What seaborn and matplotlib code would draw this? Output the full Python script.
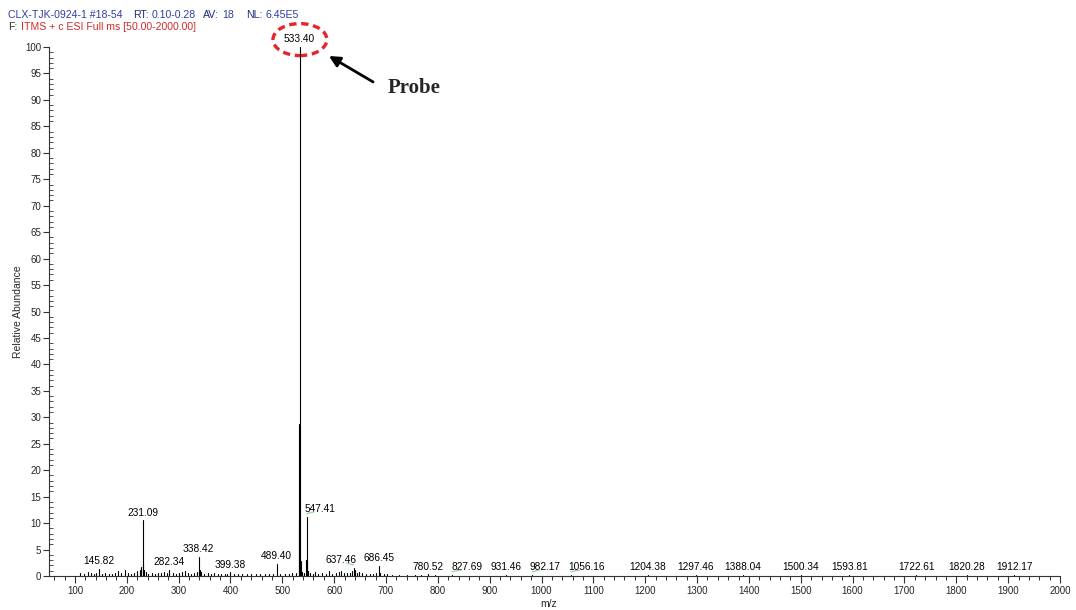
import numpy as np
import pandas as pd
import matplotlib
matplotlib.use("Agg")
import matplotlib.pyplot as plt
from matplotlib.patches import Ellipse
from matplotlib.ticker import MultipleLocator
import seaborn as sns

# Labelled peaks (m/z, relative abundance %)
labeled_mz = [145.82, 231.09, 282.34, 338.42, 399.38, 489.40, 533.40, 547.41,
              637.46, 686.45, 780.52, 827.69, 931.46, 982.17, 1056.16, 1204.38,
              1297.46, 1388.04, 1500.34, 1593.81, 1722.61, 1820.28, 1912.17]
labeled_int = [1.3, 10.5, 1.1, 3.6, 0.7, 2.3, 100.0, 11.2,
               1.5, 1.9, 0.3, 0.2, 0.2, 0.2, 0.2, 0.15,
               0.15, 0.15, 0.15, 0.15, 0.15, 0.15, 0.15]

# Unlabelled peaks
other_mz = [110.2, 117.9, 124.6, 130.8, 136.1, 140.9, 151.7, 158.3, 165.0, 171.6,
            177.2, 183.4, 189.5, 195.9, 201.6, 208.3, 214.7, 219.8, 225.4, 228.2,
            232.1, 233.2, 236.4, 241.8, 248.5, 254.1, 260.3, 266.7, 272.2, 277.9,
            288.6, 294.3, 300.5, 306.9, 312.2, 318.4, 324.8, 330.1, 334.9, 340.4,
            343.6, 349.2, 355.8, 362.3, 369.1, 375.7, 382.4, 389.8, 394.2, 406.5,
            414.9, 423.1, 431.7, 440.2, 448.6, 457.4, 466.1, 474.8, 482.3, 496.1,
            504.7, 512.3, 519.6, 525.8, 531.40, 532.40, 535.40, 536.4, 538.2, 541.5,
            546.40, 548.40, 549.4, 553.6, 558.9, 563.2, 569.5, 576.8, 584.1, 590.3,
            596.7, 603.2, 609.8, 612.4, 618.5, 624.7, 630.2, 635.1, 639.5, 643.2,
            648.8, 654.3, 661.7, 668.2, 675.6, 680.9, 689.3, 695.2, 702.6, 712.4,
            725.1, 740.3, 755.8, 768.4, 795.0]
other_int = [0.5, 0.4, 0.7, 0.6, 0.4, 0.5, 0.4, 0.5, 0.3, 0.4,
             0.5, 1.0, 0.6, 1.1, 0.5, 0.4, 0.6, 0.9, 1.1, 1.7,
             2.0, 1.2, 0.8, 0.4, 0.5, 0.4, 0.6, 0.5, 0.7, 0.6,
             0.5, 0.4, 0.6, 0.7, 0.9, 0.6, 0.4, 0.5, 0.8, 1.2,
             0.7, 0.4, 0.5, 0.4, 0.5, 0.3, 0.4, 0.3, 0.4, 0.3,
             0.4, 0.3, 0.4, 0.3, 0.3, 0.4, 0.3, 0.4, 0.3, 0.4,
             0.3, 0.4, 0.5, 0.6, 10.4, 28.7, 2.8, 1.2, 0.7, 0.5,
             3.0, 2.6, 1.0, 0.5, 0.4, 0.7, 0.4, 0.5, 0.4, 0.9,
             0.4, 0.5, 0.8, 1.0, 0.5, 0.6, 0.5, 0.9, 1.1, 0.6,
             0.8, 0.5, 0.3, 0.4, 0.3, 0.5, 0.5, 0.3, 0.3, 0.2,
             0.2, 0.2, 0.2, 0.2, 0.15]

x_ticks = list(range(100, 2001, 100))
y_ticks = list(range(0, 101, 5))

# Horizontal shift (points) of labels moved aside to avoid overlaps
label_shift = {547.41: 9.5, 637.46: -9.0, 827.69: 11.0, 982.17: 9.5, 1056.16: 11.5}

sns.set_style("ticks")
plt.rcParams["font.family"] = ["Liberation Sans", "DejaVu Sans"]

fig = plt.figure(figsize=(10.76, 6.10), dpi=100)
W, H = 1076, 610
ax = fig.add_axes([49 / W, 1 - 576 / H, 1011 / W, 529 / H])

# Stick spectrum: each peak is a vertical segment from 0 to its abundance
all_mz = labeled_mz + other_mz
all_int = labeled_int + other_int
rows = []
for i, (m, h) in enumerate(zip(all_mz, all_int)):
    rows.append({"mz": m, "abundance": 0.0, "peak": i})
    rows.append({"mz": m, "abundance": h, "peak": i})
sticks = pd.DataFrame(rows)
sns.lineplot(data=sticks, x="mz", y="abundance", units="peak", estimator=None,
             color="black", lw=0.8, ax=ax, legend=False)

ax.set_xlim(50, 2000)
ax.set_ylim(0, 100)
ax.set_xticks(x_ticks)
ax.set_yticks(y_ticks)
ax.xaxis.set_minor_locator(MultipleLocator(20))
ax.yaxis.set_minor_locator(MultipleLocator(1))
ax.tick_params(axis="x", which="major", length=5, width=0.8, direction="out",
               labelsize=7, pad=2, color="#333333")
ax.tick_params(axis="x", which="minor", length=3, width=0.7, direction="out",
               color="#333333")
ax.tick_params(axis="y", which="major", length=4, width=0.8, direction="out",
               labelsize=7, pad=1.5, color="#333333")
ax.tick_params(axis="y", which="minor", length=3, width=0.6, direction="in",
               color="#333333")
for s in ("top", "right"):
    ax.spines[s].set_visible(False)
for s in ("left", "bottom"):
    ax.spines[s].set_linewidth(0.8)
    ax.spines[s].set_color("#333333")

ax.set_xlabel("m/z", fontsize=7.5)
ax.set_ylabel("Relative Abundance", fontsize=7.5)
ax.xaxis.set_label_coords(0.4946, -0.043)
ax.yaxis.set_label_coords(-0.0258, 0.5)

# Peak labels
for m, h in zip(labeled_mz, labeled_int):
    dx = label_shift.get(m, 0.0)
    ax.annotate(f"{m:.2f}", xy=(m, h), xytext=(dx, 2.0), textcoords="offset points",
                ha="center", va="bottom", fontsize=7.3, color="black",
                annotation_clip=False)
    if dx:
        ax.annotate("", xy=(m, h + 0.6), xytext=(dx * 0.55, 1.2),
                    textcoords="offset points",
                    arrowprops=dict(arrowstyle="-", color="#9dd49d", lw=0.9,
                                    shrinkA=0, shrinkB=0),
                    annotation_clip=False)

# Highlight of the base peak
ell = Ellipse((534, 101.4), width=104, height=6.05, fill=False, ec="#e3262c",
              lw=2.4, ls=(0, (2.2, 1.4)), clip_on=False)
ax.add_patch(ell)
ax.annotate("", xy=(590, 98.3), xytext=(675, 93.4),
            arrowprops=dict(arrowstyle="-|>", color="black", lw=2.0,
                            mutation_scale=16, shrinkA=0, shrinkB=0),
            annotation_clip=False)
ax.text(704, 92.2, "Probe", fontsize=15, fontweight="bold",
        family=["Liberation Serif", "DejaVu Serif"], ha="left", va="center")

# Scan header
blue, navy, red = "#2f3fa3", "#1f2a72", "#d42a2a"
line1 = [("CLX-TJK-0924-1 #18-54", 8, blue), ("RT:", 133, navy),
         ("0.10-0.28", 152, blue), ("AV:", 203, navy), ("18", 222, blue),
         ("NL:", 246, navy), ("6.45E5", 266, blue)]
for txt, px, col in line1:
    fig.text(px / W, 1 - 15 / H, txt, fontsize=7.6, color=col, ha="left", va="center")
fig.text(8 / W, 1 - 27.5 / H, "F:", fontsize=7.6, color="#333333", ha="left", va="center")
fig.text(21 / W, 1 - 27.5 / H, "ITMS + c ESI Full ms [50.00-2000.00]", fontsize=7.6,
         color=red, ha="left", va="center")

fig.savefig("out.png", dpi=100)
